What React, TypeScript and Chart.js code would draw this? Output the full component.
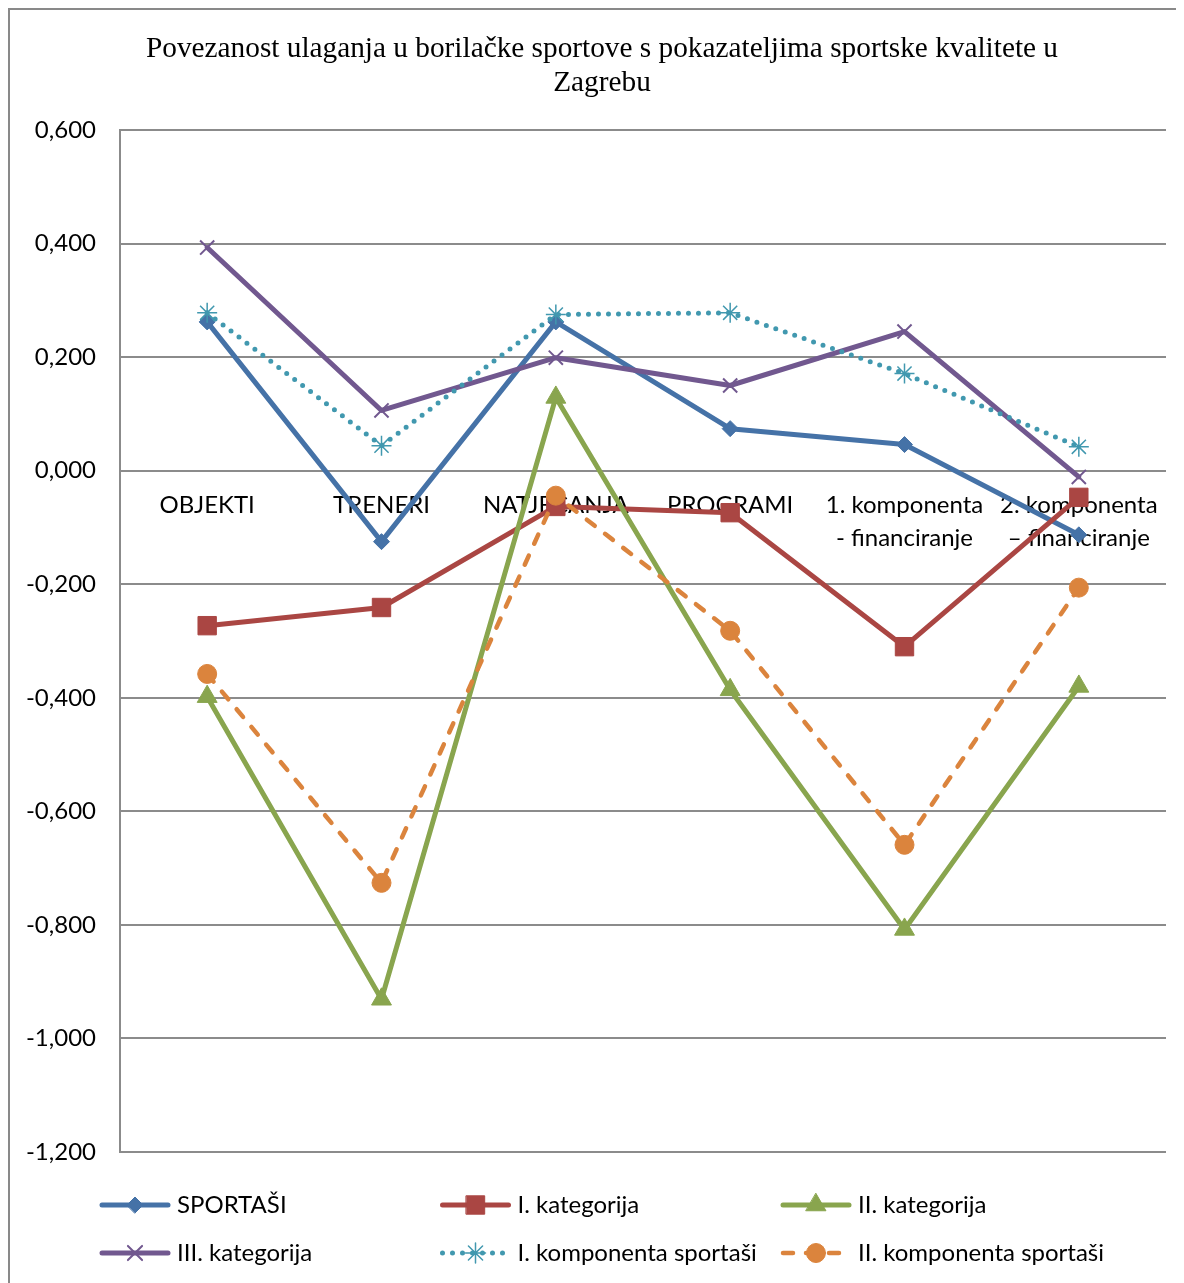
import React, { useEffect, useRef } from 'react';
import { Chart, registerables } from 'chart.js';
import { drawPoint } from 'chart.js/helpers';

Chart.register(...registerables);

const TITLE = ['Povezanost ulaganja u borilačke sportove s pokazateljima sportske kvalitete u', 'Zagrebu'];
const categories = [
  ['OBJEKTI'],
  ['TRENERI'],
  ['NATJECANJA'],
  ['PROGRAMI'],
  ['1. komponenta', '- financiranje'],
  ['2. komponenta', '– financiranje'],
];
const seriesNames = [
  'SPORTAŠI',
  'I. kategorija',
  'II. kategorija',
  'III. kategorija',
  'I. komponenta sportaši',
  'II. komponenta sportaši',
];
const sportasi = [0.262, -0.125, 0.262, 0.074, 0.046, -0.113];
const kategorija1 = [-0.273, -0.241, -0.063, -0.074, -0.31, -0.047];
const kategorija2 = [-0.398, -0.931, 0.129, -0.386, -0.808, -0.38];
const kategorija3 = [0.393, 0.106, 0.199, 0.15, 0.245, -0.011];
const komponenta1 = [0.278, 0.044, 0.275, 0.278, 0.171, 0.042];
const komponenta2 = [-0.358, -0.726, -0.044, -0.282, -0.659, -0.206];
const Y_MIN = -1.2;
const Y_MAX = 0.6;
const Y_STEP = 0.2;

const LABEL_FONT = 'Lato';
const LABEL_SIZE = 24;

const titlePlugin = {
  id: 'excelTitle',
  afterDraw(chart: any) {
    const ctx = chart.ctx;
    ctx.save();
    ctx.fillStyle = '#000';
    ctx.font = '29.3px "Liberation Serif"';
    ctx.textAlign = 'center';
    ctx.textBaseline = 'middle';
    TITLE.forEach((line, i) => ctx.fillText(line, 592, 39 + i * 34));
    ctx.restore();
  },
};

const legendPlugin = {
  id: 'excelLegend',
  afterDraw(chart: any) {
    const ctx = chart.ctx;
    chart.data.datasets.forEach((ds: any, i: number) => {
      const col = i % 3;
      const row = Math.floor(i / 3);
      const x0 = 90 + col * 340.5;
      const y = 1195 + row * 48;
      ctx.save();
      ctx.strokeStyle = ds.borderColor;
      ctx.lineWidth = ds.borderWidth;
      ctx.lineCap = 'round';
      ctx.setLineDash(ds.borderDash || []);
      ctx.beginPath();
      ctx.moveTo(x0 + 2, y);
      ctx.lineTo(x0 + 68, y);
      ctx.stroke();
      ctx.setLineDash([]);
      ctx.fillStyle = ds.pointBackgroundColor;
      ctx.strokeStyle = ds.pointBorderColor;
      ctx.lineWidth = ds.pointBorderWidth;
      drawPoint(ctx, { pointStyle: ds.pointStyle, radius: ds.pointRadius, rotation: 0, borderWidth: ds.pointBorderWidth } as any, x0 + 35, y);
      ctx.fillStyle = '#000';
      ctx.font = `${LABEL_SIZE}px ${LABEL_FONT}`;
      ctx.textBaseline = 'middle';
      ctx.textAlign = 'left';
      ctx.fillText(seriesNames[i], x0 + 77, y);
      ctx.restore();
    });
  },
};

function fmt(v: number) {
  const x = Math.abs(v) < 1e-9 ? 0 : v;
  return x.toFixed(3).replace('.', ',');
}

export default function App() {
  const ref = useRef<HTMLCanvasElement>(null);
  useEffect(() => {
    if (!ref.current) return;
    const mk = (
      label: string,
      data: number[],
      color: string,
      pointStyle: string,
      radius: number,
      extra: any = {}
    ) => ({
      label,
      data,
      borderColor: color,
      backgroundColor: color,
      pointBackgroundColor: color,
      pointBorderColor: color,
      pointStyle,
      pointRadius: radius,
      pointHoverRadius: radius,
      pointBorderWidth: 1,
      borderWidth: 5,
      tension: 0,
      borderCapStyle: 'round',
      borderJoinStyle: 'round',
      ...extra,
    });
    const datasets = [
      mk(seriesNames[0], sportasi, '#4572A7', 'rectRot', 8),
      mk(seriesNames[1], kategorija1, '#AA4643', 'rect', 13),
      mk(seriesNames[2], kategorija2, '#89A54E', 'triangle', 11.5),
      mk(seriesNames[3], kategorija3, '#71588F', 'crossRot', 10, { pointBorderWidth: 2 }),
      mk(seriesNames[4], komponenta1, '#4198AF', 'star', 10, { pointBorderWidth: 1.5, borderDash: [0, 10] }),
      mk(seriesNames[5], komponenta2, '#DB843D', 'circle', 9.5, { borderDash: [10, 13], borderWidth: 4.5 }),
    ].map((d, i, arr) => ({ ...d, order: arr.length - 1 - i }));

    const chart = new Chart(ref.current, {
      type: 'line',
      data: { labels: categories, datasets },
      plugins: [titlePlugin, legendPlugin],
      options: {
        responsive: false,
        animation: false,
        layout: { padding: { left: 0, right: 18, top: 120, bottom: 131 } },
        plugins: {
          legend: { display: false },
          tooltip: { enabled: false },
          title: { display: false },
        },
        scales: {
          x: {
            type: 'category',
            offset: true,
            position: { y: 0 },
            z: 1,
            grid: { display: false, drawTicks: false },
            border: { display: false },
            ticks: {
              color: '#000',
              font: { family: LABEL_FONT, size: LABEL_SIZE, lineHeight: '33px' },
              padding: 18,
              maxRotation: 0,
              minRotation: 0,
              autoSkip: false,
            },
          },
          y: {
            min: Y_MIN,
            max: Y_MAX,
            afterFit: (scale: any) => {
              scale.width = 110;
            },
            grid: { color: '#8b8b8b', lineWidth: 2, drawTicks: false },
            border: { display: true, color: '#8b8b8b', width: 2 },
            ticks: {
              stepSize: Y_STEP,
              color: '#000',
              font: { family: LABEL_FONT, size: LABEL_SIZE },
              padding: 24,
              callback: (v: any) => fmt(Number(v)),
            },
          },
        },
      } as any,
    });
    return () => chart.destroy();
  }, []);

  return (
    <div
      style={{
        position: 'relative',
        width: 1176,
        height: 1275,
        boxSizing: 'border-box',
        borderLeft: '2px solid #898989',
        borderTop: '2px solid #898989',
        overflow: 'hidden',
        background: '#fff',
      }}
    >
      <canvas ref={ref} width={1174} height={1273} style={{ display: 'block', width: 1174, height: 1273 }} />
    </div>
  );
}
